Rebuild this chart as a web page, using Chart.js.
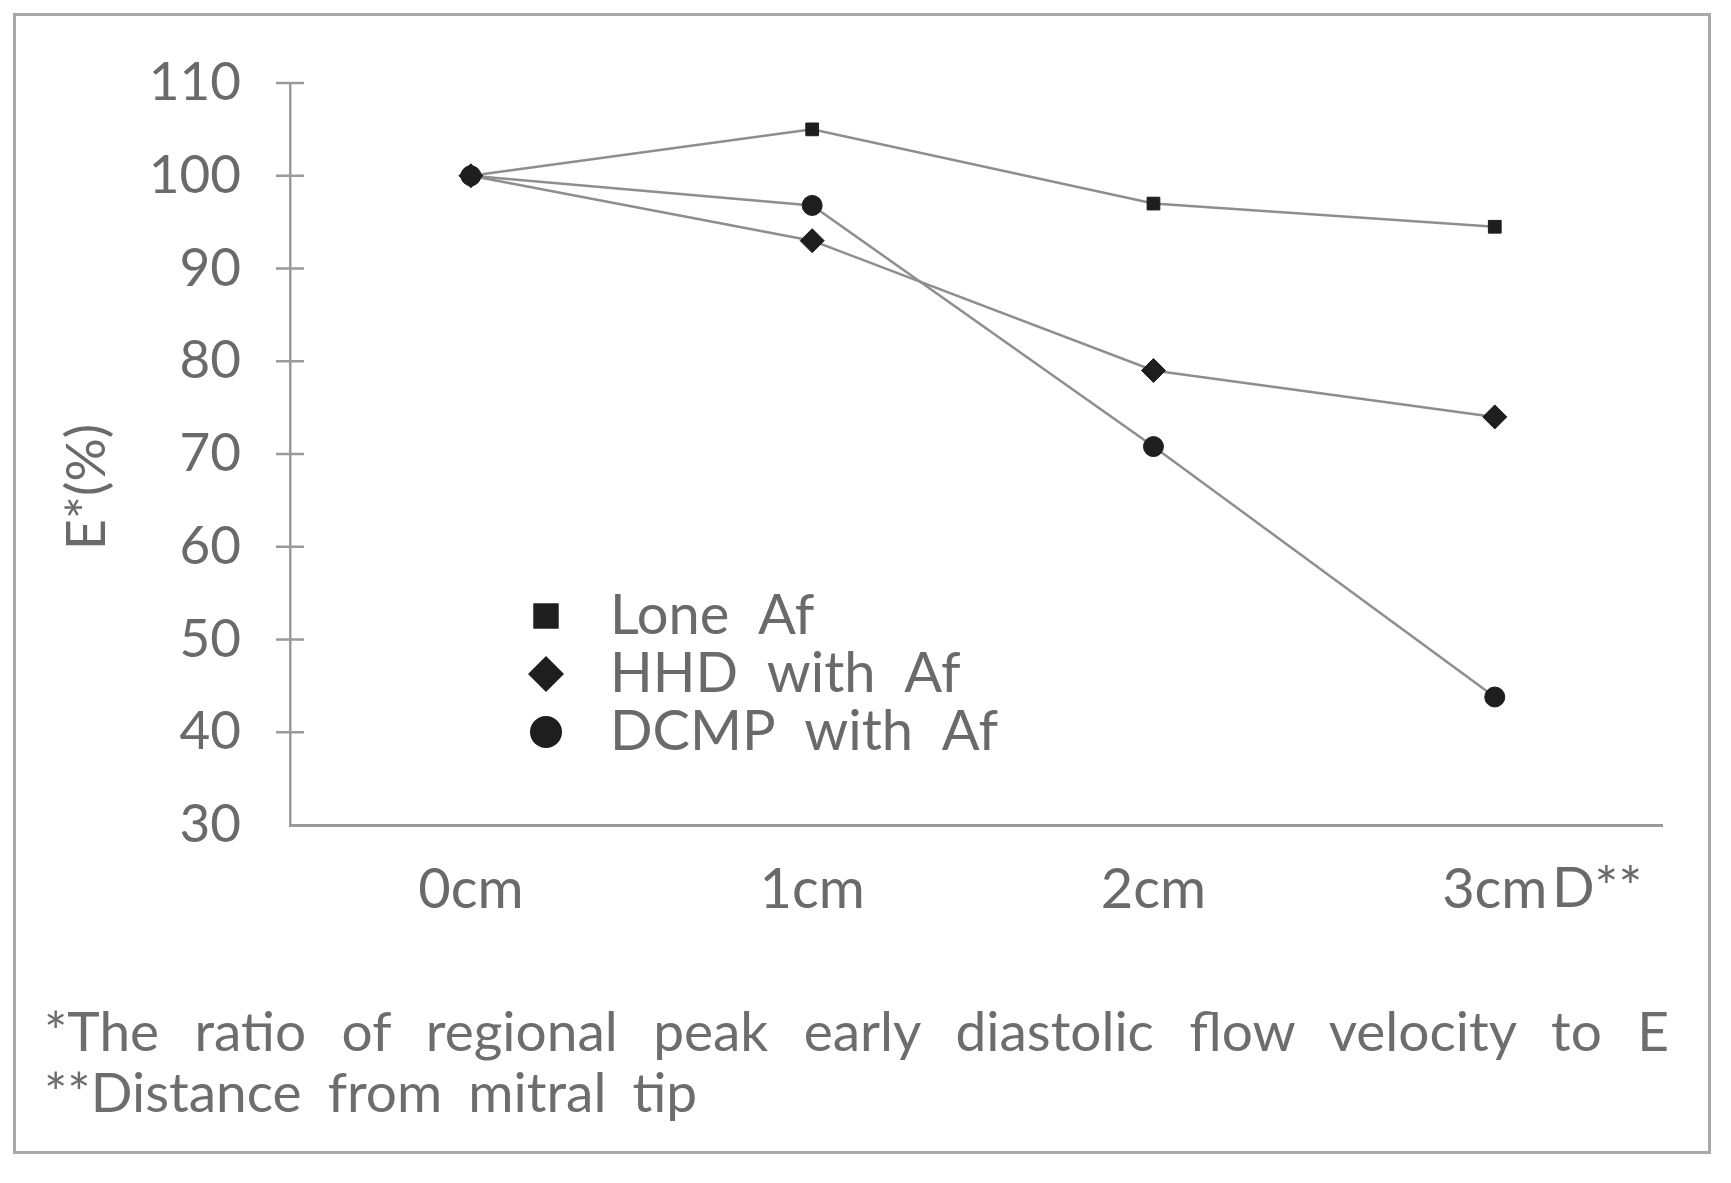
<!DOCTYPE html>
<html>
<head>
<meta charset="utf-8">
<script src="https://cdn.jsdelivr.net/npm/chart.js@4.4.1/dist/chart.umd.min.js"></script>
<style>
  body { margin: 0; background: #fff; width: 1731px; height: 1183px; position: relative; overflow: hidden; }
  #frame { position: absolute; left: 13px; top: 13px; width: 1698px; height: 1141px; border: 3px solid #a9a9a9; box-sizing: border-box; }
  #chart { position: absolute; left: 0; top: 0; }
  .note { position: absolute; left: 44px; width: 1625px; font-family: Lato, "Open Sans", sans-serif; font-size: 55px; color: #6d6d6d; line-height: 61px; white-space: nowrap; }
  #note1 { top: 1000px; text-align: justify; text-align-last: justify; }
  #note2 { top: 1061px; word-spacing: 12px; }
</style>
</head>
<body>
<div id="frame"></div>
<canvas id="chart" width="1731" height="960"></canvas>
<div class="note" id="note1">*The ratio of regional peak early diastolic flow velocity to E</div>
<div class="note" id="note2">**Distance from mitral tip</div>
<script>
const distances = ['0cm', '1cm', '2cm', '3cm'];
const loneAf = [100, 105, 97, 94.5];
const hhdAf = [100, 93, 79, 74];
const dcmpAf = [100, 96.8, 70.8, 43.8];
const yTicks = [30, 40, 50, 60, 70, 80, 90, 100, 110];

const textColor = '#6a6a6a';
const axisColor = '#9a9a9a';
const fontFamily = 'Lato, "Open Sans", sans-serif';

// legend rows: marker, label
const legendMarkers = [
    { style: 'rect', radius: 18 },
    { style: 'rectRot', radius: 18 },
    { style: 'circle', radius: 16 }
];

const extrasPlugin = {
    id: 'extras',
    afterDraw(chart) {
        const ctx = chart.ctx;
        const y = chart.scales.y;
        const x = chart.scales.x;
        ctx.save();

        // tick marks crossing the y axis
        ctx.strokeStyle = axisColor;
        ctx.lineWidth = 2.5;
        y.ticks.forEach((t, i) => {
            if (i === 0) return;
            const py = y.getPixelForTick(i);
            ctx.beginPath();
            ctx.moveTo(x.left - 14, py);
            ctx.lineTo(x.left + 14, py);
            ctx.stroke();
        });

        // y axis title
        ctx.fillStyle = textColor;
        ctx.font = '54px ' + fontFamily;
        ctx.translate(88, 487);
        ctx.rotate(-Math.PI / 2);
        ctx.textAlign = 'center';
        ctx.textBaseline = 'middle';
        ctx.fillText('E*(%)', 0, 0);
        ctx.setTransform(1, 0, 0, 1, 0, 0);

        // D** next to last category label
        ctx.font = '56px ' + fontFamily;
        ctx.textAlign = 'left';
        ctx.textBaseline = 'middle';
        ctx.fillText('D**', 1552, 889);

        // legend inside the plot
        chart.data.datasets.forEach((ds, i) => {
            const rowY = 616 + i * 58;
            const m = legendMarkers[i];
            ctx.fillStyle = '#1e1e1e';
            ctx.strokeStyle = '#1e1e1e';
            ctx.lineWidth = 1;
            Chart.helpers.drawPoint(ctx, { pointStyle: m.style, radius: m.radius, rotation: 0 }, 546, rowY);
            ctx.fillStyle = textColor;
            ctx.font = '56px ' + fontFamily;
            ctx.textAlign = 'left';
            ctx.textBaseline = 'middle';
            ctx.fillText(ds.label.replace(/ /g, '  '), 610, rowY);
        });
        ctx.restore();
    }
};

function series(label, values, style, radius, order) {
    return {
        label: label,
        data: values.map((v, i) => ({ x: i, y: v })),
        order: order,
        borderColor: '#8e8e8e',
        borderWidth: 2.5,
        pointStyle: style,
        pointRadius: radius,
        pointBackgroundColor: '#1e1e1e',
        pointBorderColor: '#1e1e1e',
        pointBorderWidth: 1,
        fill: false,
        tension: 0
    };
}

new Chart(document.getElementById('chart'), {
    type: 'line',
    data: {
        datasets: [
            series('Lone Af', loneAf, 'rect', 9, 2),
            series('HHD with Af', hhdAf, 'rectRot', 12, 1),
            series('DCMP with Af', dcmpAf, 'circle', 10, 3)
        ]
    },
    options: {
        responsive: false,
        animation: false,
        layout: { padding: { top: 83, right: 69, bottom: 0, left: 0 } },
        plugins: {
            legend: { display: false },
            tooltip: { enabled: false }
        },
        scales: {
            x: {
                type: 'linear',
                min: -0.53,
                max: 3.49,
                afterBuildTicks(scale) { scale.ticks = distances.map((d, i) => ({ value: i })); },
                grid: { drawOnChartArea: false, drawTicks: false },
                border: { display: true, color: axisColor, width: 3 },
                ticks: {
                    color: textColor,
                    padding: 31,
                    font: { family: fontFamily, size: 56 },
                    callback: (v) => distances[v]
                },
                afterFit(scale) { scale.height = 135; }
            },
            y: {
                min: 30,
                max: 110,
                afterBuildTicks(scale) { scale.ticks = yTicks.map(v => ({ value: v })); },
                grid: { drawOnChartArea: false, drawTicks: false },
                border: { display: true, color: axisColor, width: 2.5 },
                ticks: { color: textColor, padding: 49, font: { family: fontFamily, size: 53 } },
                afterFit(scale) { scale.width = 290; }
            }
        }
    },
    plugins: [extrasPlugin]
});
</script>
</body>
</html>
